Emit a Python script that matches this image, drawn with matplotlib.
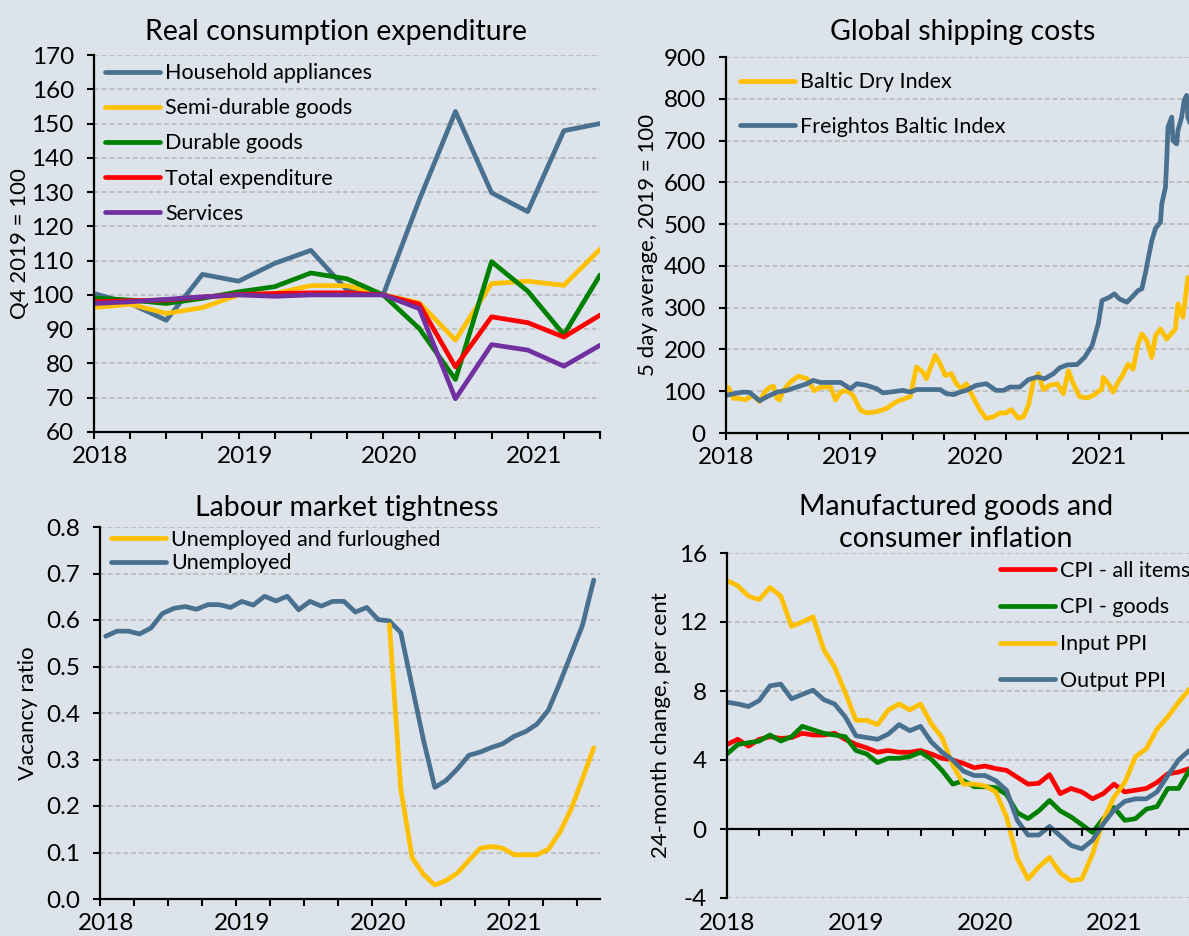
import matplotlib
matplotlib.use('Agg')
import matplotlib.pyplot as plt
import matplotlib.transforms as mtransforms
from matplotlib.ticker import MultipleLocator, FormatStrFormatter, NullLocator
import numpy as np

plt.rcParams['font.family'] = ['Lato', 'DejaVu Sans']
plt.rcParams['axes.unicode_minus'] = False

BG = '#dce3ea'
BLUE = '#4a7090'
YELLOW = '#ffc000'
GREEN = '#008000'
RED = '#ff0000'
PURPLE = '#7030a0'
GRID = '#c0c0c0'
nan = float('nan')

# ---------------- Real consumption expenditure (quarterly, 2018Q1-2021Q3) ----------------
quarters = ['2018Q1', '2018Q2', '2018Q3', '2018Q4', '2019Q1', '2019Q2', '2019Q3', '2019Q4',
            '2020Q1', '2020Q2', '2020Q3', '2020Q4', '2021Q1', '2021Q2', '2021Q3']
household_appliances = [100.4, 97.5, 92.6, 106.0, 104.0, 109.2, 113.0, 101.4, 100.0,
                        127.7, 153.5, 129.8, 124.3, 147.9, 150.0]
semi_durable = [96.3, 97.3, 94.6, 96.3, 100.0, 100.4, 102.7, 102.7, 100.0,
                97.7, 86.8, 103.3, 104.0, 102.8, 113.3]
durable = [99.1, 98.5, 97.5, 99.0, 100.9, 102.4, 106.4, 104.7, 100.0,
           90.2, 75.3, 109.7, 101.1, 88.4, 105.8]
total_exp = [98.0, 98.3, 98.5, 99.4, 100.1, 100.4, 100.6, 100.6, 100.0,
             97.3, 79.0, 93.6, 91.9, 87.7, 94.1]
services = [97.5, 98.0, 98.7, 99.4, 100.0, 99.6, 100.0, 100.0, 100.0,
            96.0, 69.7, 85.5, 83.9, 79.2, 85.3]

# ---------------- Global shipping costs (5 day average, 2019 = 100) ----------------
baltic_t = [2018.00, 2018.02, 2018.06, 2018.11, 2018.15, 2018.22, 2018.27, 2018.31, 2018.35, 2018.38,
            2018.41, 2018.43, 2018.46, 2018.51, 2018.58, 2018.65, 2018.71, 2018.76, 2018.84, 2018.88,
            2018.92, 2018.97, 2019.02, 2019.08, 2019.13, 2019.21, 2019.29, 2019.37, 2019.48, 2019.53,
            2019.58, 2019.61, 2019.68, 2019.72, 2019.76, 2019.81, 2019.85, 2019.89, 2019.93, 2019.99,
            2020.04, 2020.09, 2020.15, 2020.20, 2020.25, 2020.29, 2020.35, 2020.39, 2020.43, 2020.47,
            2020.51, 2020.55, 2020.60, 2020.66, 2020.71, 2020.75, 2020.79, 2020.84, 2020.90, 2020.95,
            2021.02, 2021.03, 2021.07, 2021.11, 2021.15, 2021.19, 2021.23, 2021.27, 2021.31, 2021.34,
            2021.38, 2021.42, 2021.45, 2021.49, 2021.54, 2021.61, 2021.63, 2021.67, 2021.71]
baltic_dry = [102, 109, 83, 83, 79, 90, 75, 98, 109, 112,
              83, 79, 101, 120, 136, 130, 101, 110, 110, 79,
              98, 102, 90, 55, 48, 51, 59, 75, 87, 158,
              146, 130, 186, 166, 138, 142, 118, 106, 118, 83,
              55, 35, 39, 48, 48, 56, 35, 39, 67, 126,
              142, 104, 114, 118, 94, 149, 118, 87, 84, 90,
              106, 133, 119, 98, 122, 141, 165, 153, 213, 237,
              221, 181, 233, 249, 225, 249, 309, 277, 372]
freightos_t = [2018.00, 2018.06, 2018.14, 2018.19, 2018.27, 2018.33, 2018.41, 2018.49, 2018.57, 2018.65,
               2018.70, 2018.76, 2018.84, 2018.92, 2019.00, 2019.05, 2019.13, 2019.21, 2019.26, 2019.32,
               2019.42, 2019.48, 2019.53, 2019.72, 2019.77, 2019.83, 2019.88, 2019.93, 2020.01, 2020.09,
               2020.17, 2020.23, 2020.28, 2020.36, 2020.43, 2020.50, 2020.56, 2020.63, 2020.68, 2020.74,
               2020.82, 2020.88, 2020.94, 2020.99, 2021.02, 2021.08, 2021.12, 2021.16, 2021.22, 2021.26,
               2021.31, 2021.34, 2021.37, 2021.39, 2021.42, 2021.45, 2021.49, 2021.50, 2021.53, 2021.54,
               2021.55, 2021.58, 2021.59, 2021.62, 2021.63, 2021.66, 2021.68, 2021.70, 2021.71, 2021.73]
freightos = [90, 94, 98, 97, 77, 87, 98, 102, 110, 118,
             126, 121, 121, 121, 106, 118, 114, 106, 96, 98,
             102, 98, 104, 104, 94, 92, 98, 102, 114, 118,
             102, 102, 110, 110, 128, 134, 130, 142, 156, 163,
             164, 181, 209, 261, 317, 325, 333, 321, 313, 325,
             341, 345, 384, 416, 460, 490, 505, 548, 588, 652,
             732, 756, 700, 692, 724, 756, 796, 808, 756, 740]

# ---------------- Labour market tightness (monthly, Jan 2018 - Aug 2021) ----------------
n_lab_months = 44
unemployed = [0.565, 0.576, 0.576, 0.570, 0.583, 0.614, 0.625, 0.629, 0.623, 0.633,
              0.633, 0.627, 0.640, 0.632, 0.651, 0.641, 0.651, 0.622, 0.640, 0.630,
              0.640, 0.640, 0.617, 0.627, 0.601, 0.598, 0.573, 0.457, 0.342, 0.240,
              0.255, 0.280, 0.309, 0.316, 0.326, 0.334, 0.350, 0.360, 0.376, 0.406,
              0.464, 0.526, 0.588, 0.686]
unemployed_furloughed = [nan] * 25 + [0.590, 0.237, 0.089, 0.053, 0.030,
                                      0.040, 0.056, 0.083, 0.109, 0.113, 0.109, 0.095, 0.095, 0.095, 0.107,
                                      0.143, 0.193, 0.258, 0.325]

# ---------------- Manufactured goods and consumer inflation (monthly, Jan 2018 - Aug 2021) ----------------
n_inf_months = 44
cpi_all = [4.9, 5.2, 4.8, 5.2, 5.35, 5.25, 5.3, 5.55, 5.45, 5.45,
           5.55, 5.2, 4.9, 4.7, 4.45, 4.55, 4.45, 4.45, 4.55, 4.35,
           4.1, 4.0, 3.8, 3.55, 3.65, 3.5, 3.4, 3.0, 2.6, 2.65,
           3.15, 2.05, 2.35, 2.15, 1.75, 2.05, 2.6, 2.15, 2.25, 2.35,
           2.7, 3.2, 3.3, 3.5]
cpi_goods = [4.35, 4.9, 5.0, 5.1, 5.45, 5.1, 5.35, 5.95, 5.75, 5.55,
             5.45, 5.35, 4.55, 4.35, 3.85, 4.1, 4.1, 4.2, 4.45, 4.05,
             3.4, 2.6, 2.8, 2.45, 2.45, 2.4, 2.0, 0.95, 0.6, 1.05,
             1.65, 1.05, 0.7, 0.25, -0.2, 0.6, 1.25, 0.5, 0.6, 1.15,
             1.3, 2.35, 2.35, 3.4]
input_ppi = [14.4, 14.1, 13.5, 13.3, 14.0, 13.5, 11.75, 12.0, 12.3, 10.4,
             9.4, 7.9, 6.3, 6.3, 6.05, 6.9, 7.25, 6.9, 7.25, 6.1,
             5.3, 3.7, 2.6, 2.6, 2.5, 2.15, 0.7, -1.7, -2.9, -2.2,
             -1.65, -2.55, -3.0, -2.9, -1.45, 0.5, 1.85, 2.7, 4.2, 4.65,
             5.8, 6.5, 7.35, 8.1]
output_ppi = [7.35, 7.25, 7.1, 7.45, 8.3, 8.4, 7.55, 7.8, 8.05, 7.5,
              7.25, 6.5, 5.4, 5.3, 5.2, 5.5, 6.05, 5.7, 5.95, 5.05,
              4.45, 4.0, 3.35, 3.1, 3.1, 2.8, 2.25, 0.5, -0.35, -0.35,
              0.15, -0.4, -0.95, -1.15, -0.65, 0.3, 1.1, 1.6, 1.75, 1.75,
              2.15, 3.1, 4.0, 4.55]

# x positions from dates
q_x = [int(q[:4]) + (int(q[5]) - 1) / 4 for q in quarters]
lab_x = [2018 + (k + 0.5) / 12 for k in range(n_lab_months)]      # mid-month
inf_x = [2018 + k / 12 for k in range(n_inf_months)]              # month start

W, H = 1189, 936
fig = plt.figure(figsize=(W / 100, H / 100), dpi=100)
fig.patch.set_facecolor(BG)

TICK_FS = 17.5
LAB_FS = 16
LEG_FS = 15.5
TITLE_FS = 20.5


def add_axes(left, top, right, bottom):
    return fig.add_axes([left / W, 1 - bottom / H, (right - left) / W, (bottom - top) / H])


def style(ax, xlim, ylim, ystep, yfmt):
    ax.set_facecolor(BG)
    for s in ['top', 'right']:
        ax.spines[s].set_visible(False)
    for s in ['left', 'bottom']:
        ax.spines[s].set_linewidth(1.6)
        ax.spines[s].set_color('black')
    ax.set_xlim(*xlim)
    ax.set_ylim(*ylim)
    ax.xaxis.set_major_locator(MultipleLocator(1))
    ax.xaxis.set_minor_locator(MultipleLocator(0.25))
    ax.xaxis.set_major_formatter(FormatStrFormatter('%d'))
    ax.yaxis.set_major_locator(MultipleLocator(ystep))
    ax.yaxis.set_major_formatter(FormatStrFormatter(yfmt))
    ax.tick_params(axis='both', which='both', direction='out', color='black', width=1.5)
    ax.tick_params(axis='x', which='both', length=5)
    ax.tick_params(axis='x', which='major', pad=5, labelsize=TICK_FS)
    ax.tick_params(axis='y', which='major', length=5, pad=9.5, labelsize=TICK_FS)
    ax.grid(axis='y', color=GRID, lw=1.4, ls=(0, (2.5, 1.5)))
    ax.set_axisbelow(True)


def shift_xlabels(ax, dx_px):
    off = mtransforms.ScaledTranslation(dx_px / 100, 0, fig.dpi_scale_trans)
    for lbl in ax.get_xticklabels():
        lbl.set_transform(lbl.get_transform() + off)


LW = 3.4
lkw = dict(lw=LW, solid_capstyle='round', solid_joinstyle='round')
legkw = dict(frameon=False, fontsize=LEG_FS, handlelength=2.55, handletextpad=0.25,
             borderpad=0, borderaxespad=0, loc='upper left')

# ---- Panel 1 ----
ax1 = add_axes(94, 55, 600, 432)
style(ax1, (2018, 2021.5), (60, 170), 10, '%d')
ax1.plot(q_x, household_appliances, color=BLUE, label='Household appliances', **lkw)
ax1.plot(q_x, semi_durable, color=YELLOW, label='Semi-durable goods', **lkw)
ax1.plot(q_x, durable, color=GREEN, label='Durable goods', **lkw)
ax1.plot(q_x, total_exp, color=RED, label='Total expenditure', **lkw)
ax1.plot(q_x, services, color=PURPLE, label='Services', **lkw)
ax1.legend(bbox_to_anchor=(0.0217, 0.978), labelspacing=0.70, **legkw)
ax1.set_title('Real consumption expenditure', fontsize=TITLE_FS, x=0.478, pad=11)
ax1.set_ylabel('Q4 2019 = 100', fontsize=LAB_FS)
ax1.yaxis.set_label_coords(-0.126, 0.5)
shift_xlabels(ax1, 6)

# ---- Panel 2 ----
ax2 = add_axes(726, 57, 1189, 433)
style(ax2, (2018, 2021.719), (0, 900), 100, '%d')
ax2.plot(baltic_t, baltic_dry, color=YELLOW, label='Baltic Dry Index', **lkw)
ax2.plot(freightos_t, freightos, color=BLUE, label='Freightos Baltic Index', **lkw)
ax2.legend(bbox_to_anchor=(0.030, 0.959), labelspacing=1.13, **legkw)
ax2.set_title('Global shipping costs', fontsize=TITLE_FS, x=0.512, pad=12)
ax2.set_ylabel('5 day average, 2019 = 100', fontsize=LAB_FS)
ax2.yaxis.set_label_coords(-0.147, 0.5)

# ---- Panel 3 ----
ax3 = add_axes(100, 527, 600, 899)
style(ax3, (2018, 2021.671), (0, 0.8), 0.1, '%.1f')
l_u, = ax3.plot(lab_x, unemployed, color=BLUE, label='Unemployed', **lkw)
l_f, = ax3.plot(lab_x, unemployed_furloughed, color=YELLOW, label='Unemployed and furloughed', **lkw)
ax3.legend(handles=[l_f, l_u], bbox_to_anchor=(0.022, 0.993), labelspacing=0.18, **legkw)
ax3.set_title('Labour market tightness', fontsize=TITLE_FS, x=0.493, pad=8)
ax3.set_ylabel('Vacancy ratio', fontsize=LAB_FS)
ax3.yaxis.set_label_coords(-0.124, 0.5)
shift_xlabels(ax3, 6)

# ---- Panel 4 ----
ax4 = add_axes(727, 553, 1189, 898)
style(ax4, (2018, 2021.581), (-4, 16), 4, '%d')
ax4.spines['bottom'].set_position(('data', 0))
ax4.tick_params(axis='x', which='both', labelbottom=False)
ax4.plot(inf_x, cpi_all, color=RED, label='CPI - all items', **lkw)
ax4.plot(inf_x, cpi_goods, color=GREEN, label='CPI - goods', **lkw)
ax4.plot(inf_x, input_ppi, color=YELLOW, label='Input PPI', **lkw)
ax4.plot(inf_x, output_ppi, color=BLUE, label='Output PPI', **lkw)
ax4.legend(bbox_to_anchor=(0.591, 0.978), labelspacing=0.78, **legkw)
ax4.set_title('Manufactured goods and\nconsumer inflation', fontsize=TITLE_FS, x=0.496, pad=4,
              linespacing=1.32)
ax4.set_ylabel('24-month change, per cent', fontsize=LAB_FS)
ax4.yaxis.set_label_coords(-0.121, 0.5)
sec = ax4.secondary_xaxis('bottom')
sec.spines['bottom'].set_visible(False)
sec.xaxis.set_major_locator(MultipleLocator(1))
sec.xaxis.set_minor_locator(NullLocator())
sec.xaxis.set_major_formatter(FormatStrFormatter('%d'))
sec.tick_params(axis='x', length=0, pad=11, labelsize=TICK_FS)

fig.savefig('out.png', dpi=100, facecolor=BG)
